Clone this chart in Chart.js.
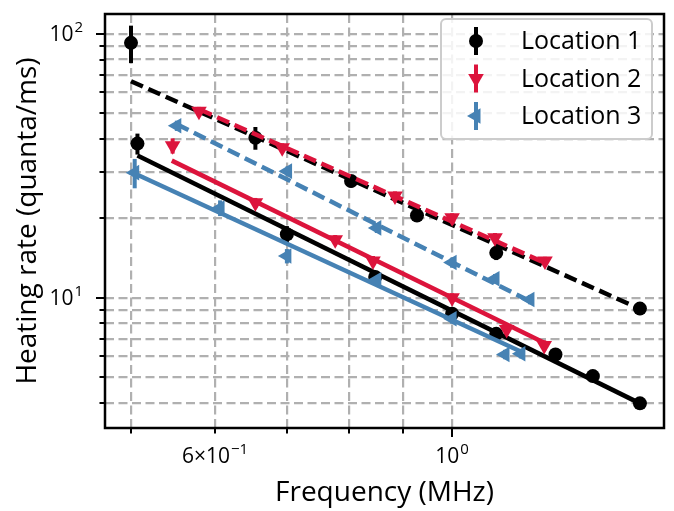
<!DOCTYPE html>
<html>
<head>
<meta charset="utf-8">
<script src="https://cdn.jsdelivr.net/npm/chart.js@4.4.0/dist/chart.umd.min.js"></script>
<style>
  html, body { margin: 0; padding: 0; background: #fff; }
  #wrap { width: 674px; height: 511px; }
</style>
</head>
<body>
<div id="wrap"><canvas id="chart" width="674" height="511"></canvas></div>
<script>
// Heating rate vs trap frequency, three locations (log-log)
// Each location has two measurement sets: A (dashed fit) and B (solid fit)

const loc1FreqA = [0.5, 0.654, 0.804, 0.927, 1.10, 1.50];
const loc1RateA = [92.5, 40.4, 27.7, 20.5, 14.8, 9.1];
const loc1ErrA  = [15, 4.0, 1.5, 1.0, 0.9, 0.5];
const loc1FreqB = [0.507, 0.70, 0.847, 1.0, 1.10, 1.25, 1.355, 1.50];
const loc1RateB = [38.4, 17.4, 12.0, 8.7, 7.3, 6.1, 5.05, 3.98];
const loc1ErrB  = [3.5, 1.3, 0.6, 0.4, 0.3, 0.25, 0.2, 0.15];

const loc2FreqA = [0.579, 0.693, 0.884, 1.0, 1.097, 1.222];
const loc2RateA = [50.9, 37.0, 24.3, 20.1, 16.9, 13.8];
const loc2ErrA  = [2.0, 1.5, 1.0, 0.8, 0.7, 0.5];
const loc2FreqB = [0.547, 0.654, 0.777, 0.843, 1.0, 1.125, 1.220];
const loc2RateB = [37.7, 22.9, 16.6, 13.8, 10.0, 7.59, 6.6];
const loc2ErrB  = [2.5, 1.0, 0.7, 0.6, 0.4, 0.3, 0.3];

const loc3FreqA = [0.552, 0.701, 0.850, 1.0, 1.097, 1.183];
const loc3RateA = [44.9, 30.2, 18.4, 13.6, 11.8, 9.85];
const loc3ErrA  = [2.0, 1.3, 0.8, 0.6, 0.5, 0.4];
const loc3FreqB = [0.504, 0.606, 0.70, 0.85, 1.0, 1.121, 1.160];
const loc3RateB = [29.8, 21.9, 14.4, 11.7, 8.33, 6.1, 6.14];
const loc3ErrB  = [3.8, 1.5, 0.9, 0.5, 0.35, 0.25, 0.25];

// power-law fit lines (end points)
const loc1FitFreqA = [0.5, 1.5];    const loc1FitRateA = [66.2, 9.08];
const loc1FitFreqB = [0.507, 1.5];  const loc1FitRateB = [34.6, 3.98];
const loc2FitFreqA = [0.58, 1.22];  const loc2FitRateA = [51.7, 13.6];
const loc2FitFreqB = [0.546, 1.22]; const loc2FitRateB = [33.1, 6.75];
const loc3FitFreqA = [0.552, 1.183]; const loc3FitRateA = [45.5, 9.7];
const loc3FitFreqB = [0.504, 1.165]; const loc3FitRateB = [29.6, 6.2];

const xTickVals = [0.5, 0.6, 0.7, 0.8, 0.9, 1.0];
const yTickVals = [4, 5, 6, 7, 8, 9, 10, 20, 30, 40, 50, 60, 70, 80, 90, 100];
const xMajor = [1.0];
const yMajor = [10, 100];
// label: [base, exponent] — mathtext style
const xTickLabels = { '0.6': ['6\u00d710', '\u22121'], '1': ['10', '0'] };
const yTickLabels = { '10': ['10', '1'], '100': ['10', '2'] };

const legendLabels = ['Location 1', 'Location 2', 'Location 3'];

const BLACK = '#000000';
const RED = '#dc143c';
const BLUE = '#4682b4';
const FONT = "'Open Sans', 'DejaVu Sans', sans-serif";

const pts = (xs, ys) => xs.map((x, i) => ({ x, y: ys[i] }));

// order: higher value is drawn first (underneath); later locations end up on top
function pointSet(label, xs, ys, errs, color, style, rot, order) {
  return {
    label, data: pts(xs, ys), errors: errs,
    showLine: false,
    pointStyle: style, rotation: rot,
    pointRadius: style === 'circle' ? 7 : 9,
    backgroundColor: color, borderColor: color, borderWidth: 0,
    order
  };
}

function fitLine(xs, ys, color, dashed, order) {
  return {
    data: pts(xs, ys), showLine: true, pointRadius: 0,
    borderColor: color, borderWidth: 4.5,
    borderDash: dashed ? [13, 6] : [],
    order
  };
}

// error bars drawn through the scales, under the markers
const errorBars = {
  id: 'errorBars',
  beforeDatasetsDraw(chart) {
    const { ctx, scales: { x, y } } = chart;
    ctx.save();
    chart.data.datasets.forEach(ds => {
      if (!ds.errors) return;
      ctx.strokeStyle = ds.borderColor;
      ctx.lineWidth = 4;
      ds.data.forEach((p, i) => {
        const e = ds.errors[i];
        const px = x.getPixelForValue(p.x);
        ctx.beginPath();
        ctx.moveTo(px, y.getPixelForValue(p.y + e));
        ctx.lineTo(px, y.getPixelForValue(p.y - e));
        ctx.stroke();
      });
    });
    ctx.restore();
  }
};

function drawMath(ctx, base, exp, xPos, yPos, align) {
  ctx.font = `21px ${FONT}`;
  const wb = ctx.measureText(base).width;
  ctx.font = `15px ${FONT}`;
  const we = ctx.measureText(exp).width;
  const total = wb + we + 1;
  let left = xPos;
  if (align === 'right') left = xPos - total;
  if (align === 'center') left = xPos - total / 2;
  ctx.textAlign = 'left';
  ctx.textBaseline = 'alphabetic';
  ctx.font = `21px ${FONT}`;
  ctx.fillText(base, left, yPos);
  ctx.font = `15px ${FONT}`;
  ctx.fillText(exp, left + wb + 1, yPos - 9);
}

// axes frame, ticks and mathtext labels
const frame = {
  id: 'frame',
  afterDraw(chart) {
    const { ctx, chartArea: a, scales: { x, y } } = chart;
    ctx.save();
    ctx.strokeStyle = '#000';
    ctx.fillStyle = '#000';
    ctx.lineWidth = 2;
    xTickVals.forEach(v => {
      const px = Math.round(x.getPixelForValue(v));
      const len = xMajor.includes(v) ? 9 : 5.5;
      ctx.beginPath(); ctx.moveTo(px, a.bottom); ctx.lineTo(px, a.bottom + len); ctx.stroke();
      const lab = xTickLabels[String(v)];
      if (lab) drawMath(ctx, lab[0], lab[1], px, a.bottom + 35, 'center');
    });
    yTickVals.forEach(v => {
      const py = Math.round(y.getPixelForValue(v));
      const len = yMajor.includes(v) ? 9 : 5.5;
      ctx.beginPath(); ctx.moveTo(a.left, py); ctx.lineTo(a.left - len, py); ctx.stroke();
      const lab = yTickLabels[String(v)];
      if (lab) drawMath(ctx, lab[0], lab[1], a.left - 22, py + 7, 'right');
    });
    ctx.lineWidth = 2.5;
    ctx.strokeRect(a.left, a.top, a.right - a.left, a.bottom - a.top);
    ctx.restore();
  }
};

// matplotlib-like legend in the upper right corner
const legendBox = {
  id: 'legendBox',
  afterDraw(chart) {
    const { ctx, chartArea: a } = chart;
    const colors = [BLACK, RED, BLUE];
    const styles = ['circle', 'triangle', 'triangle'];
    const rots = [0, 180, -90];
    const bx = a.right - 223, by = a.top + 5, bw = 211, bh = 120;
    ctx.save();
    ctx.beginPath();
    ctx.roundRect(bx, by, bw, bh, 5);
    ctx.fillStyle = 'rgba(255,255,255,0.85)';
    ctx.fill();
    ctx.strokeStyle = '#cccccc';
    ctx.lineWidth = 2;
    ctx.stroke();
    legendLabels.forEach((t, i) => {
      const cy = by + 22 + i * 37.5;
      const mx = bx + 35;
      ctx.strokeStyle = colors[i];
      ctx.lineWidth = 4;
      ctx.beginPath(); ctx.moveTo(mx, cy - 14); ctx.lineTo(mx, cy + 14); ctx.stroke();
      ctx.fillStyle = colors[i];
      Chart.helpers.drawPoint(ctx, {
        pointStyle: styles[i], rotation: rots[i],
        radius: i === 0 ? 7 : 9, borderWidth: 0
      }, mx, cy);
      ctx.fillStyle = '#000';
      ctx.font = `25px ${FONT}`;
      ctx.textAlign = 'left';
      ctx.textBaseline = 'middle';
      ctx.fillText(t, bx + 80, cy + 1);
    });
    ctx.restore();
  }
};

const gridOpts = { color: '#b0b0b0', lineWidth: 2.2, drawTicks: false };

new Chart(document.getElementById('chart'), {
  type: 'scatter',
  data: {
    datasets: [
      fitLine(loc1FitFreqA, loc1FitRateA, BLACK, true, 6),
      fitLine(loc1FitFreqB, loc1FitRateB, BLACK, false, 6),
      pointSet('Location 1', loc1FreqA, loc1RateA, loc1ErrA, BLACK, 'circle', 0, 5),
      pointSet('Location 1', loc1FreqB, loc1RateB, loc1ErrB, BLACK, 'circle', 0, 5),
      fitLine(loc2FitFreqA, loc2FitRateA, RED, true, 4),
      fitLine(loc2FitFreqB, loc2FitRateB, RED, false, 4),
      pointSet('Location 2', loc2FreqA, loc2RateA, loc2ErrA, RED, 'triangle', 180, 3),
      pointSet('Location 2', loc2FreqB, loc2RateB, loc2ErrB, RED, 'triangle', 180, 3),
      fitLine(loc3FitFreqA, loc3FitRateA, BLUE, true, 2),
      fitLine(loc3FitFreqB, loc3FitRateB, BLUE, false, 2),
      pointSet('Location 3', loc3FreqA, loc3RateA, loc3ErrA, BLUE, 'triangle', -90, 1),
      pointSet('Location 3', loc3FreqB, loc3RateB, loc3ErrB, BLUE, 'triangle', -90, 1)
    ]
  },
  options: {
    responsive: false,
    animation: false,
    layout: { padding: { top: 14, right: 10, left: 0, bottom: 0 } },
    plugins: { legend: { display: false }, tooltip: { enabled: false } },
    scales: {
      x: {
        type: 'logarithmic', min: 0.4727, max: 1.58,
        afterBuildTicks: s => { s.ticks = xTickVals.map(v => ({ value: v })); },
        afterFit: s => { s.height = 83; },
        ticks: { display: false },
        grid: gridOpts,
        border: { display: false, dash: [9, 4.5] },
        title: {
          display: true, text: 'Frequency (MHz)', color: '#000',
          font: { family: FONT, size: 28 }, padding: { top: 0, bottom: 1 }
        }
      },
      y: {
        type: 'logarithmic', min: 3.21, max: 119,
        afterBuildTicks: s => { s.ticks = yTickVals.map(v => ({ value: v })); },
        afterFit: s => { s.width = 105; },
        ticks: { display: false },
        grid: gridOpts,
        border: { display: false, dash: [9, 4.5] },
        title: {
          display: true, text: 'Heating rate (quanta/ms)', color: '#000',
          font: { family: FONT, size: 28 }, padding: { top: 11, bottom: 0 }
        }
      }
    }
  },
  plugins: [errorBars, frame, legendBox]
});
</script>
</body>
</html>
